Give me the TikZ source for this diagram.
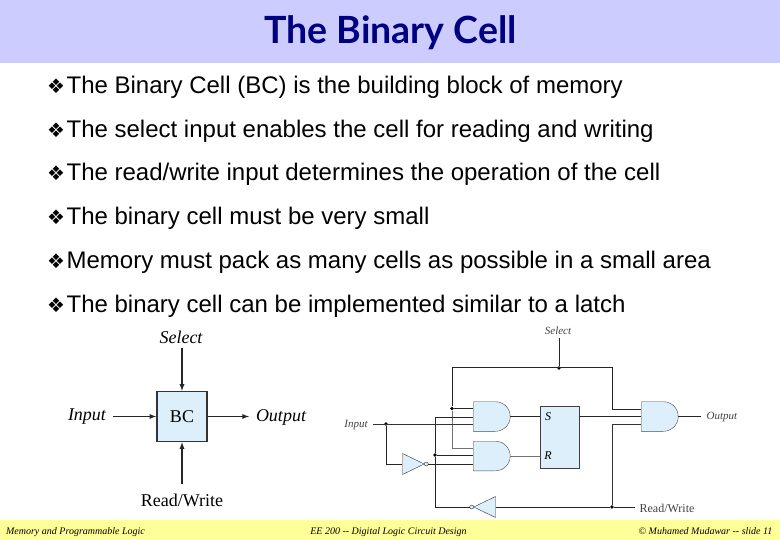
\documentclass[tikz,border=0pt]{standalone}
\usepackage{fontspec}
\usepackage{tikz}
\setmainfont{Liberation Sans}
\newfontfamily\serifface{Liberation Serif}
\newfontfamily\titleface{Lato}
\newfontfamily\bulletface{DejaVu Sans}
\usetikzlibrary{arrows,shapes.gates.logic.US}
\definecolor{headband}{HTML}{CCCCFF}
\definecolor{footband}{HTML}{FFFF99}
\definecolor{cellblue}{HTML}{DDEFFB}
\definecolor{titleblue}{HTML}{000080}
\newcommand{\bul}{{\bulletface\fontsize{20}{22}\selectfont ❖}\hspace{1.5pt}}
\tikzset{
  bullet/.style={anchor=base west, inner sep=0pt, font=\fontsize{24}{28}\selectfont},
  foot/.style={anchor=base, inner sep=0pt, font=\serifface\itshape\fontsize{10}{12}\selectfont},
  biglabel/.style={inner sep=0pt, font=\serifface\fontsize{18}{22}\selectfont},
  bigitalic/.style={inner sep=0pt, font=\serifface\itshape\fontsize{18}{22}\selectfont},
  smalllabel/.style={inner sep=0pt, text=black!75, font=\serifface\fontsize{12}{14}\selectfont},
  smallitalic/.style={inner sep=0pt, text=black!75, font=\serifface\itshape\fontsize{11}{14}\selectfont},
  andbox/.style={and gate US, draw=black!70, fill=cellblue, logic gate inputs=nn, minimum width=37pt, minimum height=29pt, inner sep=0pt},
  invbox/.style={not gate US, draw=black!80, fill=cellblue, minimum width=18pt, minimum height=18pt, inner sep=0pt},
  jdot/.style={circle, fill=black, inner sep=0pt, minimum size=3.8pt},
  wire/.style={line width=1pt, black!85},
  thinwire/.style={line width=0.7pt, black!55},
  bigwire/.style={->, >=latex, line width=1.3pt, black!85}
}
\begin{document}
\begin{tikzpicture}[x=1pt, y=-1pt]
\useasboundingbox (0,0) rectangle (780,540);

% bands
\fill[headband] (0,0) rectangle (780,63);
\fill[footband] (0,520) rectangle (780,540);

% slide text
\node[inner sep=0pt, text=titleblue, font=\titleface\bfseries\fontsize{37.5}{44}\selectfont] at (390.5,33) (title) {The Binary Cell};
\node[bullet] at (47,94) (l1) {\bul The Binary Cell (BC) is the building block of memory};
\node[bullet] at (47,138) (l2) {\bul The select input enables the cell for reading and writing};
\node[bullet] at (47,181) (l3) {\bul The read/write input determines the operation of the cell};
\node[bullet] at (47,225) (l4) {\bul The binary cell must be very small};
\node[bullet] at (47,269) (l5) {\bul Memory must pack as many cells as possible in a small area};
\node[bullet] at (47,313) (l6) {\bul The binary cell can be implemented similar to a latch};

\node[foot] at (75.5,534) (f1) {Memory and Programmable Logic};
\node[foot] at (388.5,534) (f2) {EE 200 -- Digital Logic Circuit Design};
\node[foot] at (705.5,534) (f3) {© Muhamed Mudawar -- slide 11};

% block symbol
\node[draw=black!80, line width=1.5pt, fill=cellblue, minimum width=50pt, minimum height=50pt, inner sep=0pt, font=\serifface\fontsize{18}{22}\selectfont] at (182,416.5) (bc) {BC};
\node[bigitalic] at (181,337) (bcsel) {Select};
\node[bigitalic] at (87,417) (bcin) {Input};
\node[bigitalic] at (281,417) (bcout) {Output};
\node[biglabel] at (182,500) (bcrw) {Read/Write};

\coordinate (bcselend) at (182,348);
\coordinate (bcinend) at (113,416.5);
\coordinate (bcoutend) at (249,416.5);
\coordinate (bcrwend) at (182,484);
\path[bigwire] (bcselend) edge (bc.north);
\path[bigwire] (bcinend) edge (bc.west);
\path[bigwire] (bc.east) edge (bcoutend);
\path[bigwire] (bcrwend) edge (bc.south);

% gate level circuit
\node[andbox] at (490.5,416.5) (ands) {};
\node[andbox] at (490.5,456) (andr) {};
\node[andbox] at (658.5,416.5) (andout) {};
\node[draw=black!75, line width=0.9pt, fill=cellblue, minimum width=39pt, minimum height=62pt, inner sep=0pt] at (559.5,437) (latch) {};
\node[inner sep=0pt, font=\serifface\itshape\fontsize{12}{14}\selectfont] at (548,417) (ls) {S};
\node[inner sep=0pt, font=\serifface\itshape\fontsize{12}{14}\selectfont] at (548,456) (lr) {R};
\node[invbox] at (410,464) (invin) {};
\node[invbox, rotate=180] at (488,507) (invrw) {};

\node[smallitalic] at (558,331) (sel) {Select};
\node[smallitalic] at (356,425) (inp) {Input};
\node[smallitalic] at (722,417) (outp) {Output};
\node[smalllabel] at (667,508) (rw) {Read/Write};

\coordinate (selend) at (559,338);
\node[jdot] at (559,368) (seldot) {};
\coordinate (topl) at (452,368);
\coordinate (topr) at (612,368);
\node[jdot] at (452,408.5) (sdot) {};
\coordinate (rtop) at (452,448);
\coordinate (ntop) at (435,417);
\node[jdot] at (435,455) (ndot) {};
\coordinate (nbot) at (435,507);
\coordinate (inend) at (373,424);
\node[jdot] at (386,424) (indot) {};
\node[jdot] at (612,507) (rwdot) {};
\coordinate (rwend) at (635,507);
\coordinate (outend) at (701,416.5);
\coordinate (a3top) at (612,409);
\coordinate (a3low) at (612,424);

\draw[wire] (selend) -- (seldot);
\draw[wire] (topl) -- (topr) -- (a3top) -- (andout.west |- a3top);
\draw[wire] (topl) -- (sdot);
\draw[thinwire] (sdot) -- (rtop) -- (andr.west |- rtop);
\draw[wire] (sdot) -- (ands.west |- sdot);
\draw[wire] (ands.west |- ntop) -- (ntop) -- (ndot) -- (nbot) -- (invrw.output);
\draw[wire] (ndot) -- (andr.west |- ndot);
\draw[thinwire, black!80] (inend) -- (ands.west |- inend);
\draw[wire] (indot) |- (invin.input);
\draw[wire] (invin.output) -- (andr.west |- invin.output);
\draw[wire] (ands.east) -- (latch.west |- ands.east);
\draw[thinwire] (andr.east) -- (latch.west |- andr.east);
\draw[wire] (latch.east |- ands.east) -- (andout.west |- ands.east);
\draw[wire] (andout.east) -- (outend);
\draw[thinwire, black!80] (andout.west |- a3low) -- (a3low) -- (rwdot);
\draw[wire] (rwend) -- (rwdot) -- (invrw.input);

\end{tikzpicture}
\end{document}
